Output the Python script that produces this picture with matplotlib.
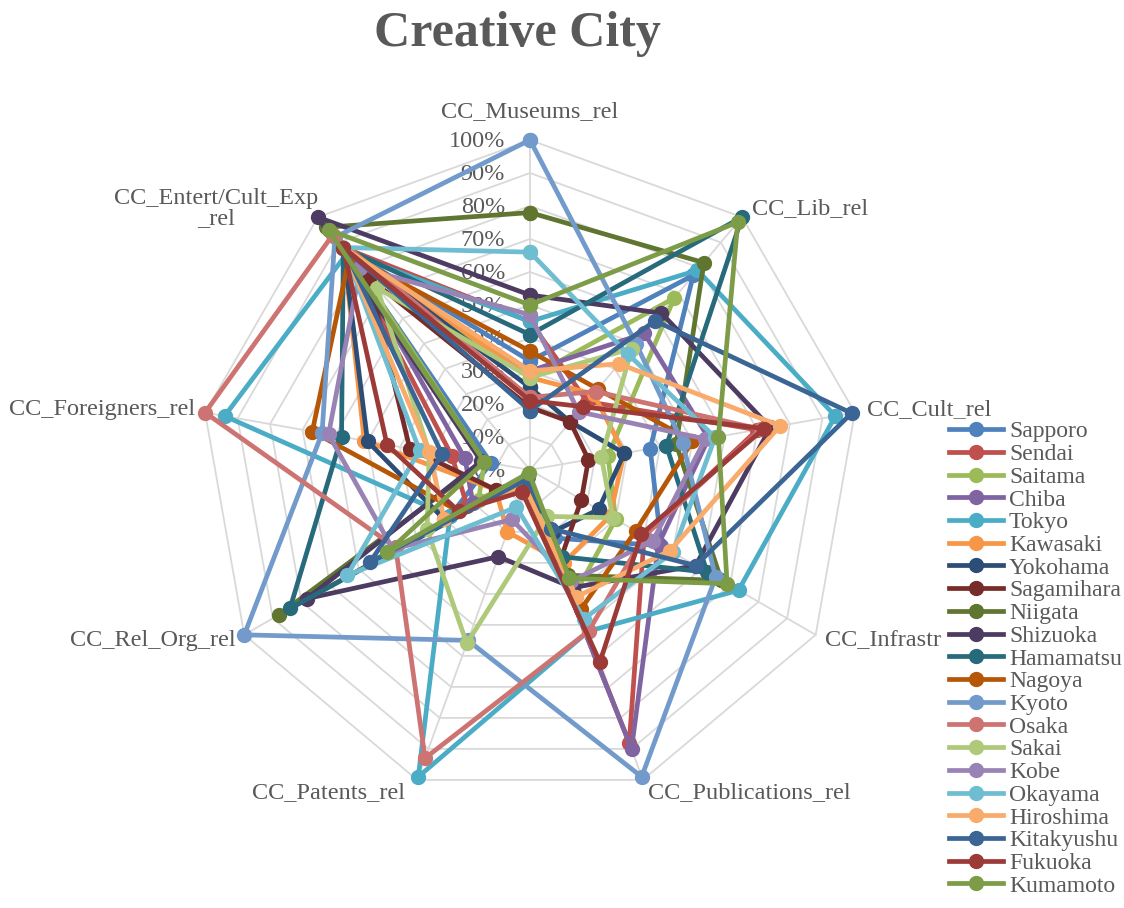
import matplotlib.pyplot as plt
import numpy as np

# axes of the radar, clockwise from the top
axes_labels = ['CC_Museums_rel', 'CC_Lib_rel', 'CC_Cult_rel', 'CC_Infrastr',
               'CC_Publications_rel', 'CC_Patents_rel', 'CC_Rel_Org_rel',
               'CC_Foreigners_rel', 'CC_Entert/Cult_Exp\n_rel']

cities = ['Sapporo', 'Sendai', 'Saitama', 'Chiba', 'Tokyo', 'Kawasaki', 'Yokohama',
          'Sagamihara', 'Niigata', 'Shizuoka', 'Hamamatsu', 'Nagoya', 'Kyoto',
          'Osaka', 'Sakai', 'Kobe', 'Okayama', 'Hiroshima', 'Kitakyushu',
          'Fukuoka', 'Kumamoto']

colors = ['#4F81BD', '#C0504D', '#9BBB59', '#8064A2', '#4BACC6', '#F79646', '#2C4D75',
          '#772C2A', '#5F7530', '#4D3B62', '#276A7C', '#B65708', '#729ACA', '#CD7371',
          '#AFC97A', '#9983B5', '#6FBDD1', '#F9AB6B', '#3A6595', '#9C3A38', '#7D9C47']

# values in %, same order as axes_labels
sapporo    = [33, 77, 37, 46, 22, 3, 28, 12, 88]
sendai     = [45, 27, 70, 40, 88, 4, 22, 24, 88]
saitama    = [28, 68, 24, 30, 40, 2, 18, 14, 85]
chiba      = [30, 54, 55, 45, 90, 4, 20, 20, 85]
tokyo      = [45, 79, 94, 73, 52, 99, 28, 94, 86]
kawasaki   = [28, 30, 29, 28, 30, 20, 12, 51, 88]
yokohama   = [25, 19, 29, 24, 20, 3, 30, 50, 88]
sagamihara = [19, 19, 18, 18, 28, 3, 12, 37, 76]
niigata    = [78, 82, 45, 67, 34, 2, 88, 14, 96]
shizuoka   = [53, 62, 74, 58, 38, 28, 78, 15, 100]
hamamatsu  = [41, 100, 42, 62, 28, 3, 84, 58, 88]
nagoya     = [36, 32, 50, 37, 45, 5, 25, 67, 85]
kyoto      = [100, 50, 47, 65, 99, 55, 100, 64, 92]
osaka      = [22, 31, 71, 40, 52, 93, 47, 100, 93]
sakai      = [28, 48, 22, 29, 15, 56, 36, 31, 72]
kobe       = [47, 23, 54, 43, 36, 16, 48, 62, 80]
okayama    = [66, 46, 57, 50, 48, 12, 64, 34, 88]
hiroshima  = [30, 42, 77, 49, 41, 5, 30, 31, 88]
kitakyushu = [18, 59, 99, 58, 19, 3, 56, 27, 88]
fukuoka    = [21, 25, 72, 39, 62, 7, 25, 44, 88]
kumamoto   = [50, 98, 58, 69, 35, 1, 50, 14, 95]

series = [sapporo, sendai, saitama, chiba, tokyo, kawasaki, yokohama, sagamihara,
          niigata, shizuoka, hamamatsu, nagoya, kyoto, osaka, sakai, kobe, okayama,
          hiroshima, kitakyushu, fukuoka, kumamoto]

ticks = [0, 10, 20, 30, 40, 50, 60, 70, 80, 90, 100]

plt.rcParams['font.family'] = ['Liberation Serif', 'DejaVu Serif']
txt = '#595959'
grid = '#D9D9D9'

fig = plt.figure(figsize=(11.24, 9.08), dpi=100)
ax = fig.add_axes([0.178, 0.119, 0.587, 0.727], projection='polar')
ax.set_theta_zero_location('N')
ax.set_theta_direction(-1)
ax.set_ylim(0, 100)
ax.grid(False)
ax.spines['polar'].set_visible(False)
ax.set_xticks([])
ax.set_yticks([])

n = len(axes_labels)
theta = np.linspace(0, 2 * np.pi, n, endpoint=False)
theta_c = np.append(theta, theta[0])

# polygon gridlines and spokes
for t in ticks[1:]:
    ax.plot(theta_c, [t] * (n + 1), color=grid, lw=1.3, zorder=1, clip_on=False)
for th in theta:
    ax.plot([th, th], [0, 100], color=grid, lw=1.3, zorder=1, clip_on=False)

for name, vals, c in zip(cities, series, colors):
    v = vals + vals[:1]
    ax.plot(theta_c, v, color=c, lw=3.4, marker='o', ms=10, label=name, zorder=3,
            clip_on=False)

# percentage labels along the first axis
for t in ticks:
    ax.annotate(f'{t}%', xy=(0, t), xytext=(-18, -1), textcoords='offset points',
                ha='right', va='center', fontsize=17.5, color=txt, zorder=2)

# category labels: (ha, va, dx, dy) in points
lab_pos = [('center', 'bottom', 0, 13), ('left', 'center', 7, 6), ('left', 'center', 9, 2),
           ('left', 'center', 7, -4), ('left', 'center', 4, -9), ('right', 'center', -9, -9),
           ('right', 'center', -6, -4), ('right', 'center', -7, 2), ('center', 'center', -73, 6)]
for th, lab, (ha, va, dx, dy) in zip(theta, axes_labels, lab_pos):
    ax.annotate(lab, xy=(th, 100), xytext=(dx, dy), textcoords='offset points',
                ha=ha, va=va, fontsize=17.5, color=txt, annotation_clip=False,
                multialignment='center', linespacing=0.95)

fig.text(0.460, 0.963, 'Creative City', ha='center', va='center', fontsize=36,
         fontweight='bold', color=txt)

leg = fig.legend(loc='upper left', bbox_to_anchor=(0.842, 0.539), frameon=True,
                 fontsize=17, handlelength=2.3, labelspacing=0.05, borderpad=0.1,
                 handletextpad=0.25, borderaxespad=0)
leg.get_frame().set_edgecolor('white')
leg.get_frame().set_facecolor('white')
leg.get_frame().set_alpha(1)
for t in leg.get_texts():
    t.set_color(txt)

fig.savefig('out.png', dpi=100)
